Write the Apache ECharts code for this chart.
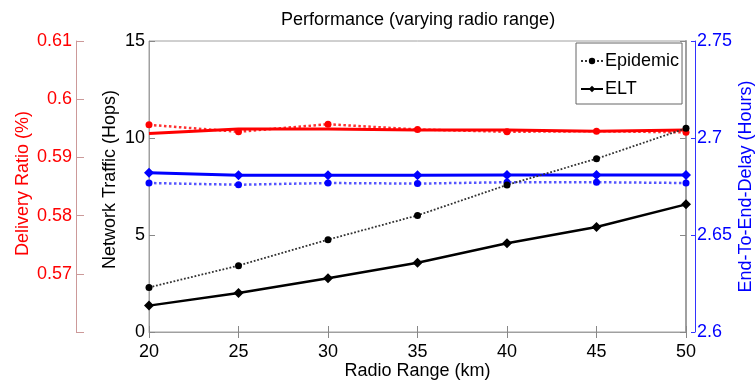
<!DOCTYPE html>
<html>
<head>
<meta charset="utf-8">
<script src="https://cdn.jsdelivr.net/npm/echarts@6/dist/echarts.min.js"></script>
<style>
  html, body { margin: 0; padding: 0; background: #fff; }
  #chart { width: 756px; height: 385px; }
</style>
</head>
<body>
<div id="chart"></div>
<script>
// radio range (km)
const radioRange = [20, 25, 30, 35, 40, 45, 50]

// network traffic (hops)
const trafficEpidemic = [2.30, 3.42, 4.76, 6.01, 7.58, 8.93, 10.5]
const trafficELT = [1.36, 2.01, 2.77, 3.57, 4.57, 5.41, 6.58]

// delivery ratio
const deliveryEpidemic = [0.5956, 0.5944, 0.5957, 0.5948, 0.5944, 0.5945, 0.5943]
const deliveryELT = [0.5941, 0.5949, 0.5949, 0.5947, 0.5947, 0.5945, 0.5947]

// end-to-end delay (hours)
const delayEpidemic = [2.6768, 2.6759, 2.6768, 2.6765, 2.6772, 2.6772, 2.6768]
const delayELT = [2.6821, 2.6808, 2.6808, 2.6808, 2.6809, 2.6809, 2.6809]

const FONT = "'Liberation Sans', Arial, Helvetica, sans-serif"
const pairs = (ys) => radioRange.map((x, i) => [x, ys[i]])
const trimNum = (v) => String(parseFloat(v.toFixed(2)))

const chart = echarts.init(document.getElementById("chart"))

const option = {
  backgroundColor: "#fff",
  animation: false,
  textStyle: { fontFamily: FONT },
  title: {
    text: "Performance (varying radio range)",
    left: 276,
    top: 6,
    textStyle: { fontSize: 18, fontWeight: "normal", color: "#000", fontFamily: FONT },
  },
  legend: {
    orient: "vertical",
    left: 576,
    top: 43,
    padding: [9, 3, 6, 4],
    itemWidth: 22,
    itemHeight: 8,
    itemGap: 10,
    borderColor: "#666",
    borderWidth: 1,
    backgroundColor: "#fff",
    textStyle: { fontSize: 18, color: "#000", fontFamily: FONT, padding: [0, 0, 0, -3] },
    data: ["Epidemic", "ELT"],
  },
  grid: {
    left: 149,
    right: 70,
    top: 41,
    bottom: 53,
    show: true,
    borderColor: "#a0a0a0",
    borderWidth: 1,
    outerBoundsMode: "none",
  },
  xAxis: [
    {
      type: "value",
      min: 20,
      max: 50,
      interval: 5,
      name: "Radio Range (km)",
      nameLocation: "middle",
      nameGap: 30,
      nameMoveOverlap: false,
      nameTextStyle: { fontSize: 18, color: "#000", fontFamily: FONT },
      axisLine: { lineStyle: { color: "#a0a0a0" } },
      axisTick: { inside: true, length: 6, lineStyle: { color: "#888" } },
      axisLabel: { fontSize: 18, color: "#000", margin: 11 },
      splitLine: { show: false },
    },
    {
      type: "value",
      position: "top",
      min: 20,
      max: 50,
      interval: 5,
      axisLine: { show: false },
      axisTick: { inside: true, length: 6, lineStyle: { color: "#888" } },
      axisLabel: { show: false },
      splitLine: { show: false },
    },
  ],
  yAxis: [
    {
      type: "value",
      position: "left",
      min: 0,
      max: 15,
      interval: 5,
      name: "Network Traffic (Hops)",
      nameLocation: "middle",
      nameRotate: 90,
      nameGap: 30,
      nameMoveOverlap: false,
      nameTextStyle: { fontSize: 18, color: "#000", fontFamily: FONT, padding: [0, 0, 0, 14] },
      axisLine: { show: true, lineStyle: { color: "#a0a0a0" } },
      axisTick: { show: true, inside: true, length: 6, lineStyle: { color: "#888" } },
      axisLabel: { fontSize: 18, color: "#000", margin: 4 },
      splitLine: { show: false },
    },
    {
      type: "value",
      position: "left",
      offset: 73,
      min: 0.56,
      max: 0.61,
      interval: 0.01,
      name: "Delivery Ratio (%)",
      nameLocation: "middle",
      nameRotate: 90,
      nameGap: 44,
      nameMoveOverlap: false,
      nameTextStyle: { fontSize: 18, color: "#ff0000", fontFamily: FONT, padding: [0, 0, 0, 6] },
      axisLine: { show: true, lineStyle: { color: "#c99" } },
      axisTick: { show: true, inside: true, length: 8, lineStyle: { color: "#c99" } },
      axisLabel: {
        fontSize: 18,
        color: "#ff0000",
        margin: 4,
        formatter: (v) => (v < 0.565 ? "" : trimNum(v)),
      },
      splitLine: { show: false },
    },
    {
      type: "value",
      position: "right",
      offset: 9,
      min: 2.6,
      max: 2.75,
      interval: 0.05,
      name: "End-To-End-Delay (Hours)",
      nameLocation: "middle",
      nameRotate: 90,
      nameGap: 42,
      nameMoveOverlap: false,
      nameTextStyle: { fontSize: 18, color: "#0000ff", fontFamily: FONT },
      axisLine: { show: true, lineStyle: { color: "#3333ff" } },
      axisTick: { show: true, inside: true, length: 4, lineStyle: { color: "#3333ff" } },
      axisLabel: { fontSize: 18, color: "#0000ff", margin: 2, formatter: trimNum },
      splitLine: { show: false },
    },
    {
      type: "value",
      position: "right",
      offset: 0,
      min: 0,
      max: 15,
      interval: 5,
      axisLine: { show: true, lineStyle: { color: "#a0a0a0", width: 2 } },
      axisTick: { show: true, inside: true, length: 6, lineStyle: { color: "#888" } },
      axisLabel: { show: false },
      splitLine: { show: false },
    },
  ],
  series: [
    {
      name: "Delivery Epidemic",
      type: "line",
      yAxisIndex: 1,
      data: pairs(deliveryEpidemic),
      symbol: "circle",
      symbolSize: 7,
      itemStyle: { color: "#ff0000" },
      lineStyle: { color: "#ff3030", width: 2.5, type: "dotted" },
      z: 3,
    },
    {
      name: "Delivery ELT",
      type: "line",
      yAxisIndex: 1,
      data: pairs(deliveryELT),
      symbol: "none",
      itemStyle: { color: "#ff0000" },
      lineStyle: { color: "#ff0000", width: 3 },
      z: 4,
    },
    {
      name: "Delay Epidemic",
      type: "line",
      yAxisIndex: 2,
      data: pairs(delayEpidemic),
      symbol: "circle",
      symbolSize: 7,
      itemStyle: { color: "#0000ff" },
      lineStyle: { color: "#5555ff", width: 2.5, type: "dotted" },
      z: 3,
    },
    {
      name: "Delay ELT",
      type: "line",
      yAxisIndex: 2,
      data: pairs(delayELT),
      symbol: "diamond",
      symbolSize: 10,
      itemStyle: { color: "#0000ff" },
      lineStyle: { color: "#0000ff", width: 3 },
      z: 4,
    },
    {
      name: "Epidemic",
      type: "line",
      yAxisIndex: 0,
      data: pairs(trafficEpidemic),
      symbol: "circle",
      symbolSize: 7,
      itemStyle: { color: "#000" },
      lineStyle: { color: "#333", width: 1.8, type: "dotted" },
      z: 5,
    },
    {
      name: "ELT",
      type: "line",
      yAxisIndex: 0,
      data: pairs(trafficELT),
      symbol: "diamond",
      symbolSize: 10,
      itemStyle: { color: "#000" },
      lineStyle: { color: "#000", width: 2.5 },
      z: 5,
    },
  ],
}

chart.setOption(option)
</script>
</body>
</html>
